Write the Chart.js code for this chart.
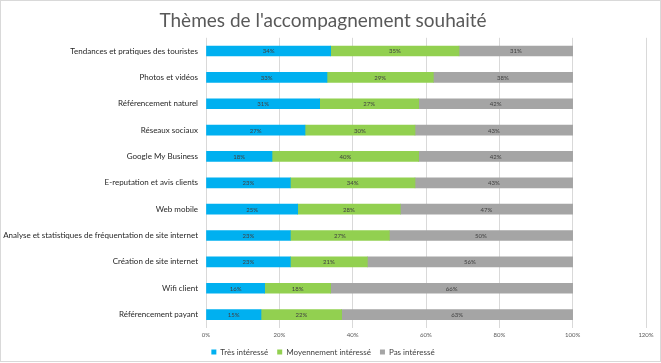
<!DOCTYPE html>
<html>
<head>
<meta charset="utf-8">
<script src="https://cdn.jsdelivr.net/npm/chart.js@4/dist/chart.umd.min.js"></script>
<style>
  html, body { margin: 0; padding: 0; background: #fff; }
  #wrap { width: 661px; height: 363px; position: relative; }
</style>
</head>
<body>
<div id="wrap"><canvas id="canvas_themes" width="661" height="363"></canvas></div>
<script>
// themes (top to bottom)
var themes = [
  'Tendances et pratiques des touristes',
  'Photos et vidéos',
  'Référencement naturel',
  'Réseaux sociaux',
  'Google My Business',
  'E-reputation et avis clients',
  'Web mobile',
  'Analyse et statistiques de fréquentation de site internet',
  'Création de site internet',
  'Wifi client',
  'Référencement payant'
];
// % per answer
var tresInteresse = [34, 33, 31, 27, 18, 23, 25, 23, 23, 16, 15];
var moyennementInteresse = [35, 29, 27, 30, 40, 34, 28, 27, 21, 18, 22];
var pasInteresse = [31, 38, 42, 43, 42, 43, 47, 50, 56, 66, 63];
var xTicks = [0, 20, 40, 60, 80, 100, 120];

var fontFam = 'Lato, "Open Sans", sans-serif';

// draws the % inside each segment
var segLabels = {
  id: 'segLabels',
  afterDatasetsDraw: function(chart) {
    var ctx = chart.ctx;
    ctx.save();
    ctx.font = '6px ' + fontFam;
    ctx.fillStyle = '#404040';
    ctx.textAlign = 'center';
    ctx.textBaseline = 'middle';
    chart.data.datasets.forEach(function(ds, i) {
      var meta = chart.getDatasetMeta(i);
      meta.data.forEach(function(bar, j) {
        var p = bar.getProps(['x', 'base', 'y'], true);
        ctx.fillText(ds.data[j] + '%', (p.x + p.base) / 2, p.y + 0.5);
      });
    });
    ctx.restore();
  }
};

// light frame round the chart
var frame = {
  id: 'frame',
  afterDraw: function(chart) {
    var ctx = chart.ctx;
    ctx.save();
    ctx.strokeStyle = '#d9d9d9';
    ctx.lineWidth = 1;
    ctx.strokeRect(0.5, 0.5, chart.width - 1, chart.height - 2);
    ctx.restore();
  }
};

var configThemes = {
  type: 'bar',
  data: {
    labels: themes,
    datasets: [
      { label: 'Très intéressé', data: tresInteresse, backgroundColor: '#00b0f0', barThickness: 10 },
      { label: 'Moyennement intéressé', data: moyennementInteresse, backgroundColor: '#92d050', barThickness: 10 },
      { label: 'Pas intéressé', data: pasInteresse, backgroundColor: '#a5a5a5', barThickness: 10 }
    ]
  },
  options: {
    indexAxis: 'y',
    responsive: false,
    animation: false,
    layout: { padding: { left: 0, right: 15, top: 0, bottom: -3 } },
    scales: {
      x: {
        stacked: true,
        min: 0,
        max: 120,
        afterBuildTicks: function(s) { s.ticks = xTicks.map(function(v) { return { value: v }; }); },
        grid: { color: '#d9d9d9', drawTicks: false },
        border: { display: false },
        ticks: {
          padding: 4,
          color: '#595959',
          font: { size: 6, family: fontFam },
          callback: function(v) { return v + '%'; }
        }
      },
      y: {
        stacked: true,
        grid: { display: false, drawTicks: false },
        border: { display: false },
        afterFit: function(s) { s.width = 206; },
        ticks: {
          padding: 8,
          color: '#262626',
          font: { size: 8, family: fontFam }
        }
      }
    },
    plugins: {
      title: {
        display: true,
        text: "Thèmes de l'accompagnement souhaité",
        color: '#595959',
        font: { size: 19, family: fontFam, weight: 'normal' },
        padding: { top: 9, bottom: 6 }
      },
      legend: {
        position: 'bottom',
        labels: {
          boxWidth: 5,
          boxHeight: 5,
          padding: 5,
          color: '#404040',
          font: { size: 8, family: fontFam },
          generateLabels: function(chart) {
            var items = Chart.defaults.plugins.legend.labels.generateLabels(chart);
            // a bit more room between items
            items.forEach(function(it, k) { if (k < items.length - 1) it.text += '\u2002'; });
            return items;
          }
        }
      },
      tooltip: { enabled: false }
    }
  },
  plugins: [segLabels, frame]
};

var ctx_themes = document.getElementById('canvas_themes').getContext('2d');
new Chart(ctx_themes, configThemes);
</script>
</body>
</html>
